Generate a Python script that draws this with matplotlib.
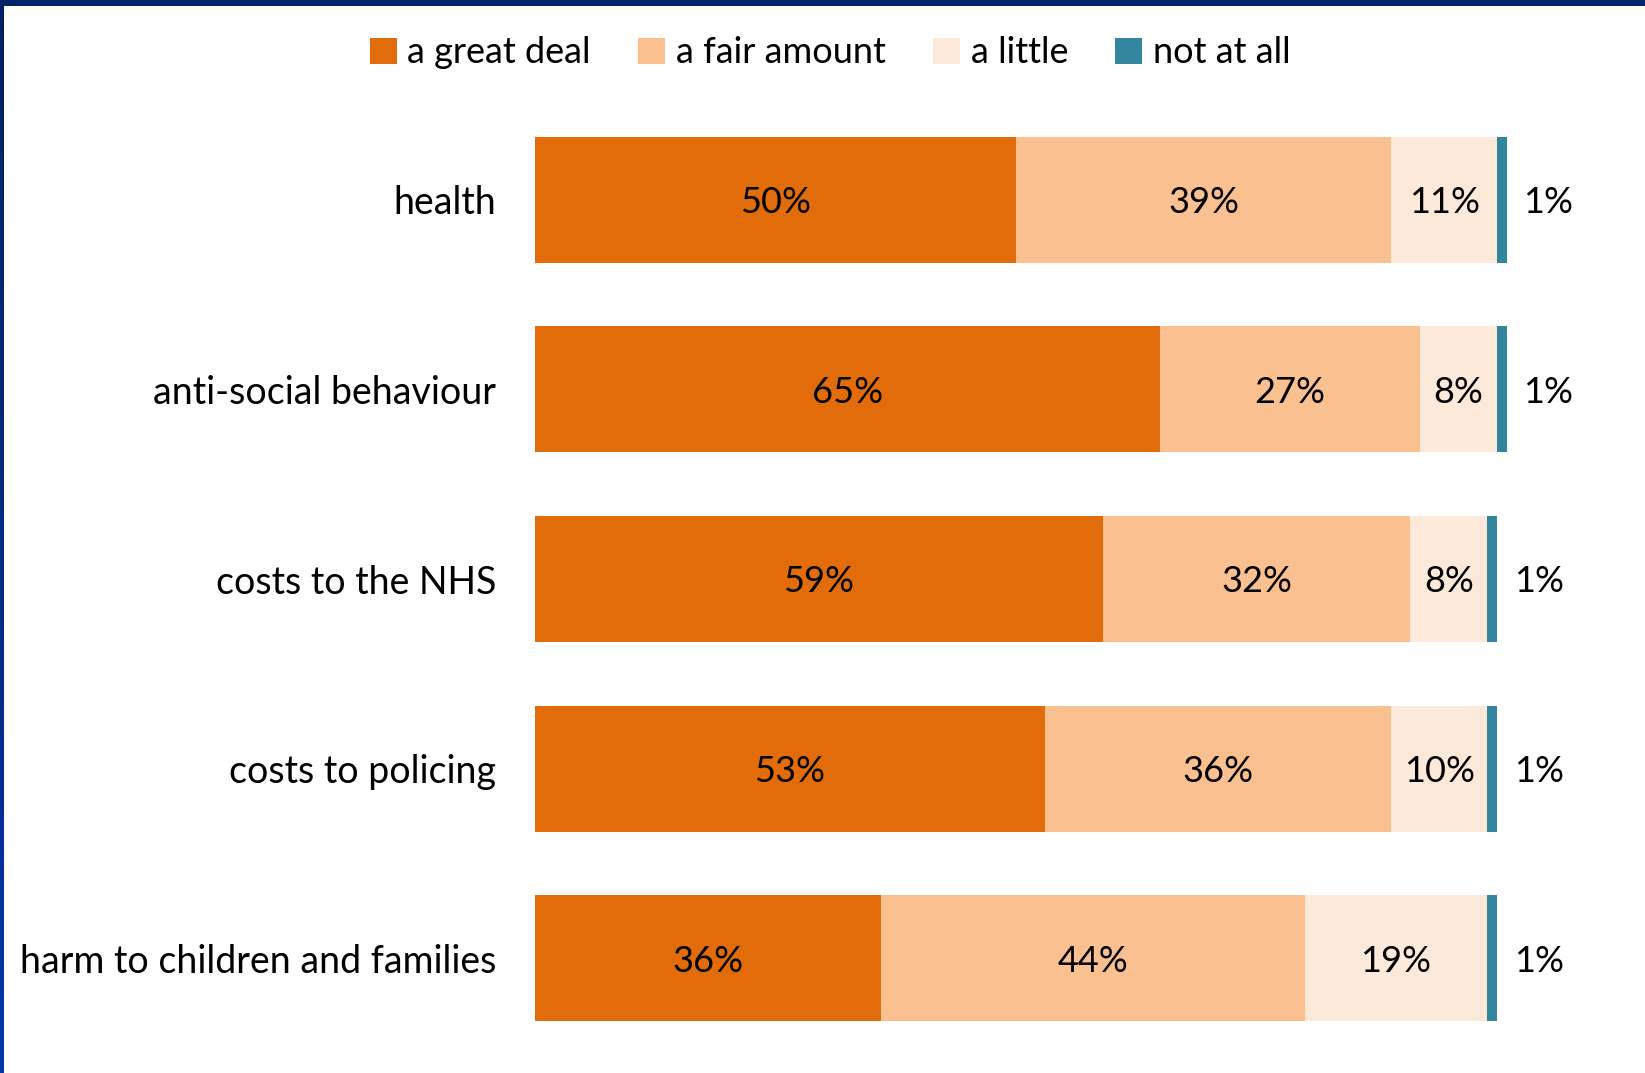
import numpy as np
import matplotlib.pyplot as plt
from matplotlib.colors import LinearSegmentedColormap
from matplotlib.patches import Patch

categories = ["health", "anti-social behaviour", "costs to the NHS",
              "costs to policing", "harm to children and families"]
series_names = ["a great deal", "a fair amount", "a little", "not at all"]
great_deal = [50, 65, 59, 53, 36]
fair_amount = [39, 27, 32, 36, 44]
a_little = [11, 8, 8, 10, 19]
not_at_all = [1, 1, 1, 1, 1]

colors = ["#E36C0A", "#FAC090", "#FDE9D9", "#31859C"]

plt.rcParams['font.family'] = ['Lato', 'DejaVu Sans']

W, H = 1645, 1073
fig = plt.figure(figsize=(W / 100, H / 100), dpi=100)

# frame: navy band along the top, gradient strip down the left edge
band = fig.add_axes([0, 0, 4 / W, 1])
grad = LinearSegmentedColormap.from_list("edge", ["#002060", "#0035A6"])
band.imshow(np.linspace(0, 1, 256).reshape(-1, 1), aspect="auto", cmap=grad)
band.axis("off")
top = fig.add_axes([0, 1 - 6 / H, 1, 6 / H])
top.set_facecolor("#00236A")
top.set_xticks([])
top.set_yticks([])
for s in top.spines.values():
    s.set_visible(False)

ax = fig.add_axes([535 / W, 1 - 1053 / H, 962 / W, (1053 - 105) / H])

y = np.arange(len(categories))
series = [great_deal, fair_amount, a_little, not_at_all]
left = np.zeros(len(categories))
for name, vals, col in zip(series_names, series, colors):
    vals = np.array(vals, dtype=float)
    ax.barh(y, vals, left=left, height=0.665, color=col, label=name, clip_on=False)
    for i, v in enumerate(vals):
        if name == "not at all":
            ax.annotate(f"{v:.0f}%", xy=(left[i] + v, y[i]), xytext=(12, 0),
                        textcoords="offset points", ha="left", va="center_baseline",
                        fontsize=26, color="black", annotation_clip=False)
        else:
            ax.text(left[i] + v / 2, y[i], f"{v:.0f}%", ha="center",
                    va="center_baseline", fontsize=26, color="black")
    left += vals

ax.set_xlim(0, 100)
ax.set_ylim(len(categories) - 0.5, -0.5)
ax.set_yticks(y)
ax.set_yticklabels(categories, fontsize=27)
ax.tick_params(axis="y", length=0, pad=28)
ax.set_xticks([])
for s in ax.spines.values():
    s.set_visible(False)

handles = [Patch(facecolor=c, edgecolor="none") for c in colors]
fig.legend(handles, series_names, loc="center", bbox_to_anchor=(830 / W, 1 - 53 / H),
           ncol=4, frameon=False, fontsize=26, handlelength=0.75, handleheight=0.75,
           handletextpad=0.3, columnspacing=1.3)

fig.savefig("out.png", dpi=100, facecolor="white")
